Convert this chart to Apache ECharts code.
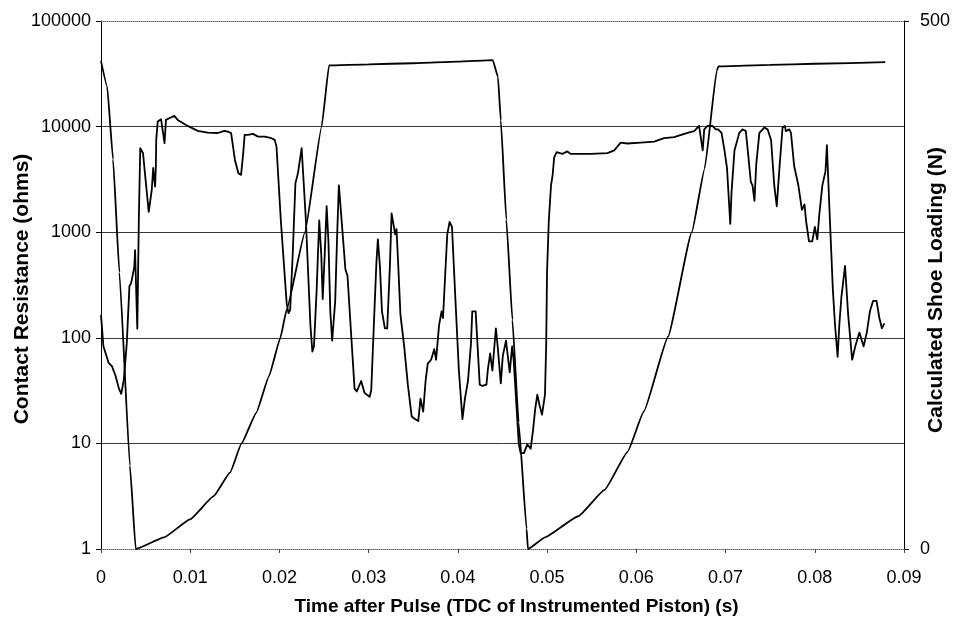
<!DOCTYPE html>
<html>
<head>
<meta charset="utf-8">
<script src="https://cdn.jsdelivr.net/npm/echarts@6/dist/echarts.min.js"></script>
<style>
  html, body { margin: 0; padding: 0; background: #ffffff; }
  #chart { width: 957px; height: 624px; }
</style>
</head>
<body>
<div id="chart"></div>
<script>
// Contact resistance (ohms) against time after the pulse (s)
const resTime = [
  0, 0.00027, 0.00085, 0.00122, 0.00162, 0.00201, 0.00227, 0.00256, 0.00289, 0.00319,
  0.00337, 0.00373, 0.00382, 0.00389, 0.00407, 0.00424, 0.0044, 0.00471, 0.00489, 0.00535,
  0.00569, 0.00585, 0.00606, 0.00615, 0.00619, 0.00636, 0.00673, 0.00692, 0.00712, 0.00728,
  0.00765, 0.00821, 0.0086, 0.00972, 0.01084, 0.01197, 0.01309, 0.01383, 0.01421, 0.01458,
  0.01501, 0.0154, 0.0157, 0.01594, 0.0161, 0.01648, 0.01704, 0.0176, 0.01835, 0.0191,
  0.01947, 0.01967, 0.02015, 0.02081, 0.02101, 0.0212, 0.02149, 0.02179, 0.02207, 0.02249,
  0.02296, 0.02347, 0.02369, 0.02387, 0.02417, 0.02431, 0.02446, 0.02469, 0.02485, 0.02507,
  0.02529, 0.02549, 0.0257, 0.02591, 0.02625, 0.02646, 0.02666, 0.02709, 0.02739, 0.02763,
  0.02797, 0.02842, 0.02867, 0.02916, 0.02954, 0.03011, 0.03029, 0.03058, 0.03087, 0.03103,
  0.03126, 0.03149, 0.03182, 0.03208, 0.03238, 0.03257, 0.03276, 0.03297, 0.03312, 0.0333,
  0.03356, 0.03398, 0.03439, 0.03482, 0.03519, 0.03556, 0.03581, 0.03611, 0.03638, 0.03662,
  0.037, 0.03735, 0.03756, 0.03789, 0.03817, 0.03833, 0.03857, 0.03881, 0.03907, 0.03934,
  0.03973, 0.04011, 0.04051, 0.04079, 0.04113, 0.04147, 0.04161, 0.04199, 0.04245, 0.04275,
  0.0432, 0.04337, 0.04362, 0.04387, 0.04409, 0.04426, 0.04446, 0.04481, 0.04503, 0.04539,
  0.04581, 0.04608, 0.04625, 0.04661, 0.04683, 0.04703, 0.0474, 0.04778, 0.04816, 0.04843,
  0.04866, 0.0489, 0.04915, 0.04943, 0.04976, 0.0499, 0.04999, 0.05019, 0.05044, 0.05062,
  0.05079, 0.05107, 0.05171, 0.05227, 0.05264, 0.05339, 0.05489, 0.05676, 0.05752, 0.05825,
  0.059, 0.06049, 0.062, 0.06311, 0.06424, 0.06573, 0.06648, 0.06703, 0.06721, 0.06744,
  0.06761, 0.06797, 0.06853, 0.06891, 0.06918, 0.06955, 0.06988, 0.07016, 0.07053, 0.07067,
  0.071, 0.07154, 0.0719, 0.07227, 0.07249, 0.07283, 0.07302, 0.07324, 0.07344, 0.07379,
  0.07434, 0.07471, 0.0751, 0.07546, 0.07574, 0.07607, 0.07639, 0.07665, 0.07676, 0.07696,
  0.07715, 0.07733, 0.07769, 0.07816, 0.07856, 0.07885, 0.07902, 0.07935, 0.07972, 0.08001,
  0.08028, 0.08052, 0.08085, 0.0812, 0.08136, 0.08163, 0.08203, 0.08227, 0.08256, 0.08275,
  0.08298, 0.08339, 0.08374, 0.08419, 0.08454, 0.085, 0.08547, 0.08583, 0.08618, 0.08654,
  0.08692, 0.08724, 0.08752, 0.0878
];
const resValue = [
  165, 83, 58, 54, 44, 33, 29.5, 40, 89, 310,
  327, 467, 676, 405, 122, 1320, 6240, 5600, 3880, 1560,
  2520, 4060, 2700, 4170, 7480, 11200, 11750, 11570, 6960, 11570,
  12000, 12630, 11570, 10150, 9100, 8770, 8700, 9100, 8970, 8700,
  4830, 3610, 3490, 5600, 8340, 8340, 8530, 8040, 8040, 7760,
  7480, 6460, 1310, 212, 171, 183, 626, 2900, 3610, 6240,
  1310, 132, 74, 83, 283, 606, 1290, 606, 233, 606,
  1760, 820, 178, 94, 224, 890, 2780, 955, 446, 385,
  132, 33, 31, 39, 30, 27.6, 32, 132, 520, 856,
  480, 178, 123, 123, 480, 1510, 1510, 955, 1070, 520,
  166, 83, 36, 18, 17, 16.3, 26.5, 20, 39, 57,
  62, 78, 62, 132, 178, 154, 385, 955, 1250, 1120,
  224, 49, 17, 26.5, 39, 89, 178, 178, 36, 35,
  36, 51, 71, 49, 83, 123, 83, 37, 67, 94,
  47, 83, 62, 19.6, 9.8, 8.1, 8.1, 9.8, 8.9, 13.5,
  21, 29, 23, 18.7, 29, 89, 414, 1290, 2780, 3490,
  5120, 5730, 5520, 5820, 5520, 5520, 5520, 5610, 5950, 7040,
  6920, 7040, 7210, 7780, 7950, 8720, 9070, 10150, 10150, 5950,
  9420, 10150, 10150, 9420, 9420, 8720, 5950, 4070, 1200, 2380,
  5950, 8720, 9420, 9070, 5950, 3000, 2780, 1980, 4390, 8720,
  9800, 9420, 7480, 2780, 1760, 4390, 9800, 10150, 9070, 8720,
  9420, 8720, 4230, 2780, 1630, 1830, 1290, 820, 820, 1120,
  856, 1510, 2780, 3770, 6670, 1760, 282, 132, 66, 132,
  241, 480, 166, 62, 83, 112, 83, 112, 178, 224,
  224, 154, 123, 137
];

// Calculated shoe loading (N) against time after the pulse (s)
const loadTime = [
  0, 0.00069, 0.00135, 0.00206, 0.00324, 0.00389, 0.00707, 0.00997, 0.01263, 0.01447,
  0.01575, 0.0174, 0.01884, 0.0201, 0.02082, 0.02286, 0.02473, 0.02556, 0.030, 0.035,
  0.040, 0.04391, 0.04449, 0.04481, 0.04543, 0.04611, 0.04681, 0.0477, 0.04785, 0.04976,
  0.05348, 0.05644, 0.05902, 0.06083, 0.06355, 0.06622, 0.06765, 0.06902, 0.0692, 0.075,
  0.080, 0.0879
];
const loadValue = [
  462, 438, 369, 262, 79, 0, 11, 28, 50, 72.5,
  100, 129, 164, 200, 227, 300, 400, 458, 459, 460,
  461.5, 463, 447, 406, 312, 217, 120, 19, 0, 11,
  31, 56, 92, 130, 201, 300, 360, 453, 457, 458.5,
  459.5, 461
];

// Axis tick labels
const timeTicks = ['0', '0.01', '0.02', '0.03', '0.04', '0.05', '0.06', '0.07', '0.08', '0.09'];
const resistanceTicks = ['1', '10', '100', '1000', '10000', '100000'];
const loadTicks = ['0', '500'];

const FONT = '"Liberation Sans", Arial, sans-serif';

const pairs = (xs, ys) => xs.map((x, i) => [x, ys[i]]);

// vertical axis title, reading bottom to top
const sideTitle = (text, x, y) => ({
  type: 'text',
  x: x,
  y: y,
  rotation: Math.PI / 2,
  silent: true,
  style: {
    text: text,
    fontFamily: FONT,
    fontWeight: 'bold',
    fontSize: 21,
    fill: '#000',
    align: 'center',
    verticalAlign: 'middle'
  }
});

const chart = echarts.init(document.getElementById('chart'), null, { renderer: 'canvas' });

chart.setOption({
  animation: false,
  backgroundColor: '#ffffff',
  grid: { left: 101, right: 53, top: 21, bottom: 75, containLabel: false, outerBoundsMode: 'none' },
  graphic: [
    sideTitle('Contact Resistance (ohms)', 22, 289),
    sideTitle('Calculated Shoe Loading (N)', 936, 290)
  ],
  xAxis: [
    {
      type: 'value',
      min: 0,
      max: 0.09,
      interval: 0.01,
      position: 'bottom',
      name: 'Time after Pulse (TDC of Instrumented Piston) (s)',
      nameLocation: 'middle',
      nameGap: 48,
      nameTextStyle: { fontFamily: FONT, fontWeight: 'bold', fontSize: 19, color: '#000', padding: [0, 0, 0, 28] },
      axisLine: { show: true, onZero: false, lineStyle: { color: '#666', width: 1, type: 'dotted' } },
      axisTick: { show: true, inside: false, length: 4, lineStyle: { color: '#444' } },
      axisLabel: {
        margin: 20,
        fontFamily: FONT, fontSize: 18, color: '#000',
        formatter: (v) => timeTicks[Math.round(v / 0.01)]
      },
      splitLine: { show: false }
    },
    {
      // dotted frame along the top edge of the plot
      type: 'value',
      min: 0,
      max: 0.09,
      position: 'top',
      axisLine: { show: true, onZero: false, lineStyle: { color: '#666', width: 1, type: 'dotted' } },
      axisTick: { show: false },
      axisLabel: { show: false },
      splitLine: { show: false }
    }
  ],
  yAxis: [
    {
      type: 'log',
      logBase: 10,
      min: 1,
      max: 100000,
      position: 'left',
      axisLine: { show: true, onZero: false, lineStyle: { color: '#000', width: 1 } },
      axisTick: { show: true, inside: false, length: 5, lineStyle: { color: '#000' } },
      axisLabel: {
        margin: 10,
        fontFamily: FONT, fontSize: 18, color: '#000',
        formatter: (v) => resistanceTicks[Math.round(Math.log10(v))]
      },
      splitLine: {
        show: true,
        lineStyle: {
          color: ['rgba(0,0,0,0)', '#3a3a3a', '#3a3a3a', '#3a3a3a', '#3a3a3a', 'rgba(0,0,0,0)'],
          width: 1,
          type: 'solid'
        }
      }
    },
    {
      type: 'value',
      min: 0,
      max: 500,
      interval: 500,
      position: 'right',
      axisLine: { show: true, onZero: false, lineStyle: { color: '#000', width: 1 } },
      axisTick: { show: true, inside: false, length: 5, lineStyle: { color: '#000' } },
      axisLabel: {
        margin: 16,
        fontFamily: FONT, fontSize: 18, color: '#000',
        formatter: (v) => loadTicks[Math.round(v / 500)]
      },
      splitLine: { show: false }
    }
  ],
  series: [
    {
      name: 'Contact Resistance',
      type: 'line',
      xAxisIndex: 0,
      yAxisIndex: 0,
      data: pairs(resTime, resValue),
      showSymbol: false,
      symbol: 'none',
      lineStyle: { color: '#000', width: 1.8, join: 'round' },
      z: 3
    },
    {
      name: 'Calculated Shoe Loading',
      type: 'line',
      xAxisIndex: 0,
      yAxisIndex: 1,
      data: pairs(loadTime, loadValue),
      showSymbol: false,
      symbol: 'none',
      smooth: 0.12,
      smoothMonotone: 'x',
      lineStyle: { color: '#000', width: 1.8, join: 'round' },
      z: 3
    }
  ]
});
</script>
</body>
</html>
